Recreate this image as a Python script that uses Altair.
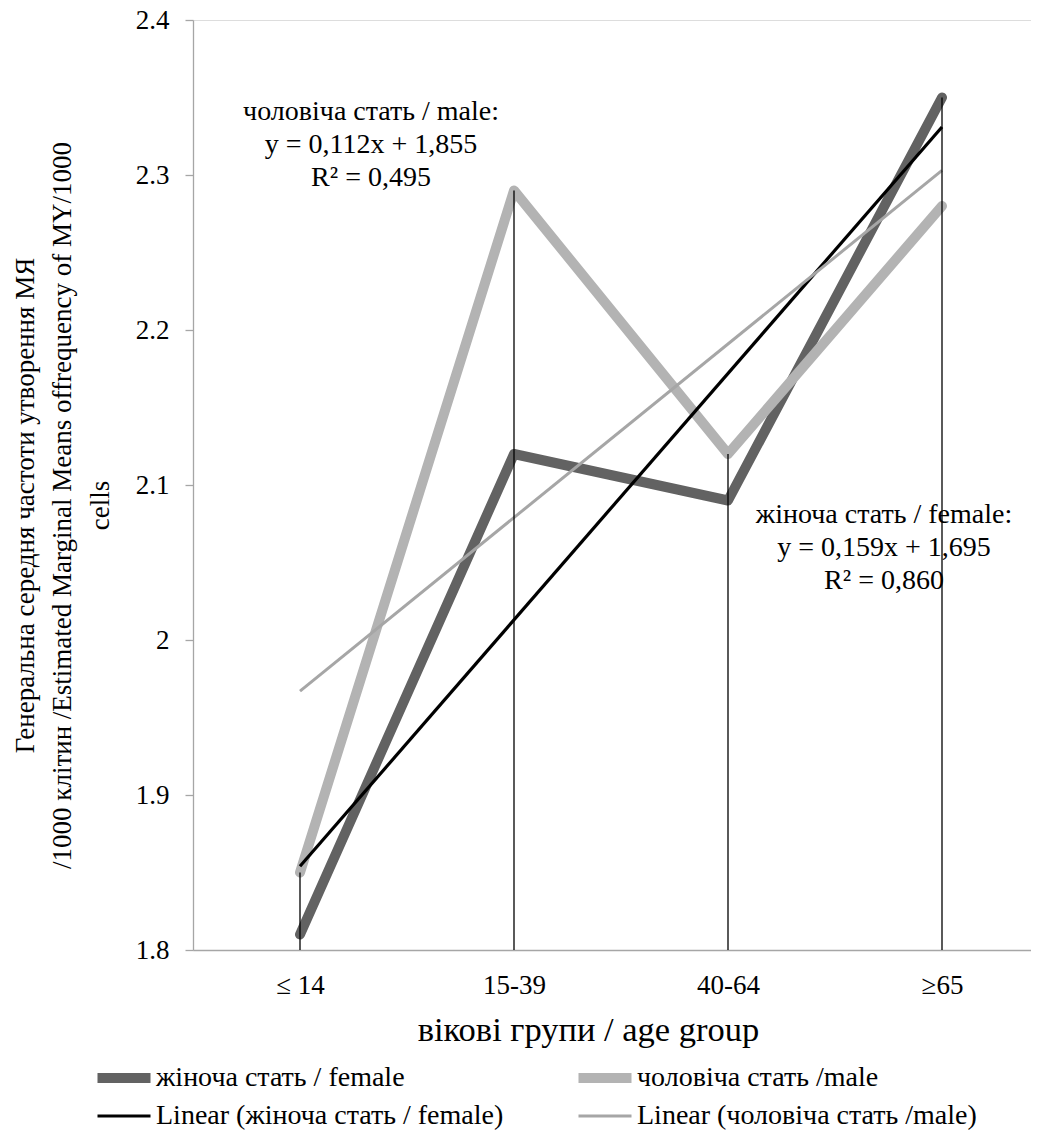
import altair as alt
import pandas as pd

# ---- data ----
age_groups = ["≤ 14", "15-39", "40-64", "≥65"]
age_index = [1, 2, 3, 4]
female_vals = [1.81, 2.12, 2.09, 2.35]
male_vals = [1.85, 2.29, 2.12, 2.28]
series_names = ["жіноча стать / female", "чоловіча стать /male"]
linear_names = ["Linear (жіноча стать / female)", "Linear (чоловіча стать /male)"]
# legend is filled column by column: column 1 = female, Linear female; column 2 = male, Linear male
legend_order = [series_names[0], linear_names[0], series_names[1], linear_names[1]]
legend_colors = ["#626262", "#000000", "#b3b3b3", "#a6a6a6"]
legend_widths = [10, 3.2, 10, 3]

ann_x = [1.332, 3.729]
ann_y = [2.3406, 2.0806]
ann_text = [
    ["чоловіча стать / male:", "y = 0,112x + 1,855", "R² = 0,495"],
    ["жіноча стать / female:", "y = 0,159x + 1,695", "R² = 0,860"],
]

y_title = [
    "Генеральна середня частоти утворення МЯ",
    "/1000 клітин /Estimated Marginal Means offrequency of MY/1000",
    "cells",
]
x_title = "вікові групи / age group"

FONT = "Liberation Serif, Times New Roman, serif"

rows = []
for i, xi in enumerate(age_index):
    rows.append({"x": xi, "value": female_vals[i], "s": series_names[0]})
    rows.append({"x": xi, "value": male_vals[i], "s": series_names[1]})
df = pd.DataFrame(rows)
ann_df = pd.DataFrame({"x": ann_x, "y": ann_y, "t": ann_text})

label_expr = " : ".join(
    [f"datum.value == {xi} ? '{lab}'" for xi, lab in zip(age_index, age_groups)]
) + " : ''"

x_scale = alt.Scale(domain=[0.5, 0.5 + 838 / 214], nice=False, zero=False)
y_scale = alt.Scale(domain=[1.8, 2.4], nice=False, zero=False)

x_axis = alt.Axis(
    values=age_index, labelExpr=label_expr, grid=False, ticks=False,
    domainColor="#a6a6a6", domainWidth=1.3, labelFont=FONT, labelFontSize=27,
    labelColor="#000000", labelPadding=22, title=x_title, titleFont=FONT,
    titleFontSize=34.5, titleFontWeight="normal", titleColor="#000000",
    titleX=395, titleY=80, titleBaseline="middle", titleAnchor="start", titleAlign="center",
)
y_axis = alt.Axis(
    values=[1.8, 1.9, 2.0, 2.1, 2.2, 2.3, 2.4],
    labelExpr="datum.value == 2 ? '2' : format(datum.value, '.1f')",
    grid=False, tickColor="#a6a6a6", tickSize=8, tickWidth=1.3,
    domainColor="#a6a6a6", domainWidth=1.3, labelFont=FONT, labelFontSize=27,
    labelColor="#000000", labelPadding=16, title=y_title, titleFont=FONT,
    titleFontSize=27, titleFontWeight="normal", titleColor="#000000",
    titleLineHeight=37.5, titleX=-168, titleY=485, titleBaseline="middle",
    titleAngle=270, titleAlign="center",
)

legend_props = dict(
    title=None, orient="none", legendX=-101, legendY=1043, columns=2,
    columnPadding=69, rowPadding=8, clipHeight=30, symbolType="stroke", symbolSize=2810,
    labelFont=FONT, labelFontSize=28, labelColor="#000000", labelOffset=0,
    labelLimit=600,
)

color_enc = alt.Color(
    "s:N",
    scale=alt.Scale(domain=legend_order, range=legend_colors),
    legend=alt.Legend(**legend_props),
)
sw_enc = alt.StrokeWidth(
    "s:N",
    scale=alt.Scale(type="ordinal", domain=legend_order, range=legend_widths),
    legend=alt.Legend(**legend_props),
)

base = alt.Chart(df)

lines = base.mark_line(strokeCap="round", strokeJoin="round").encode(
    x=alt.X("x:Q", scale=x_scale, axis=x_axis),
    y=alt.Y("value:Q", scale=y_scale, axis=y_axis),
    color=color_enc,
    strokeWidth=sw_enc,
    detail="s:N",
)

trend = base.transform_regression(
    "x", "value", groupby=["s"], extent=[1, 4]
).transform_calculate(
    s="'Linear (' + datum.s + ')'"
).mark_line().encode(
    x=alt.X("x:Q", scale=x_scale),
    y=alt.Y("value:Q", scale=y_scale),
    color=color_enc,
    strokeWidth=sw_enc,
)

drops = base.transform_aggregate(
    vmax="max(value)", groupby=["x"]
).mark_rule(color="#000000", strokeWidth=1.3).encode(
    x=alt.X("x:Q", scale=x_scale),
    y=alt.Y("vmax:Q", scale=y_scale),
    y2=alt.datum(1.8),
)

ann = alt.Chart(ann_df).mark_text(
    font=FONT, fontSize=28, lineHeight=33, baseline="middle", align="center", color="#000000"
).encode(
    x=alt.X("x:Q", scale=x_scale),
    y=alt.Y("y:Q", scale=y_scale),
    text="t",
)

chart = alt.layer(lines, trend, drops, ann).properties(
    width=838, height=930,
    autosize=alt.AutoSizeParams(type="none"),
    padding={"left": 185, "top": 12, "right": 0, "bottom": 180},
).configure_view(stroke=None).configure(background="#ffffff")

chart.save("out.html", embed_options={"renderer": "svg", "actions": False})
